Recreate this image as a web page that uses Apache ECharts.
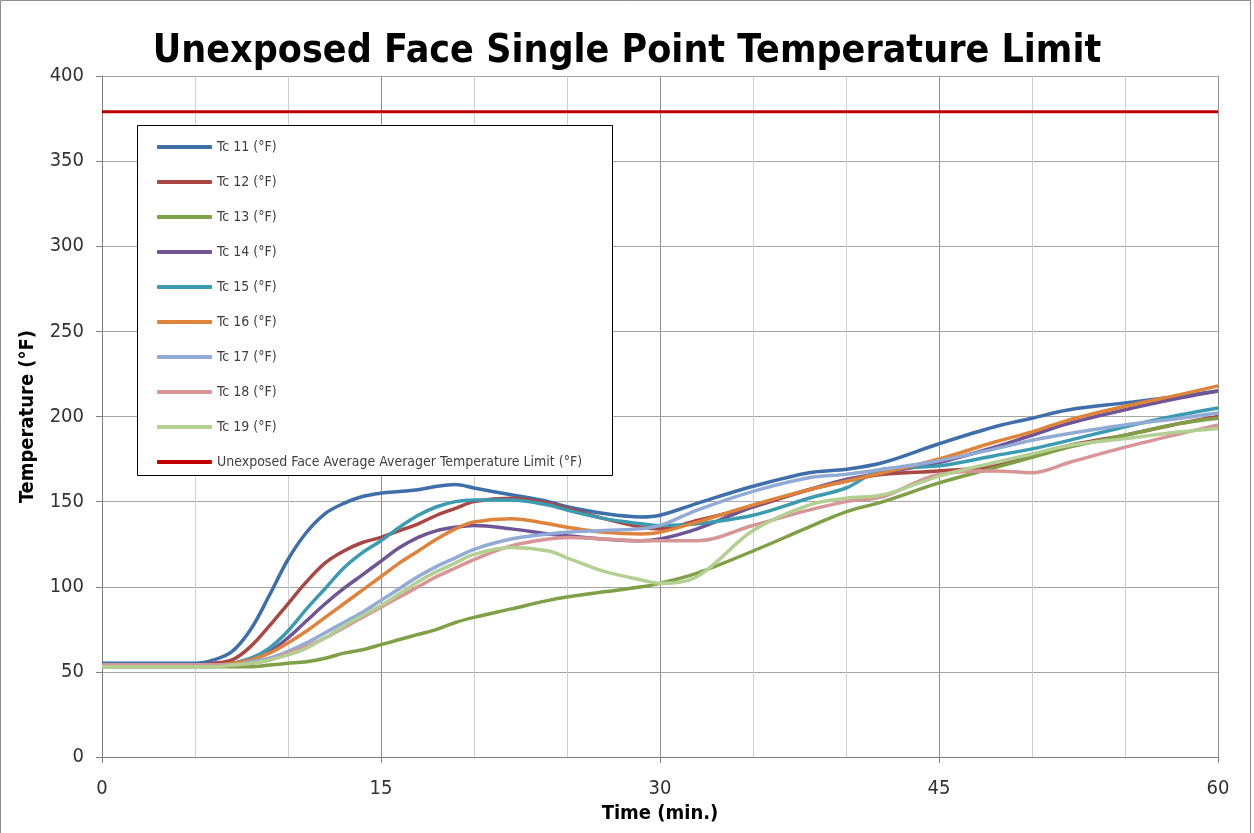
<!DOCTYPE html>
<html>
<head>
<meta charset="utf-8">
<title>Unexposed Face Single Point Temperature Limit</title>
<script src="https://cdn.jsdelivr.net/npm/echarts@6/dist/echarts.min.js"></script>
<style>
  html, body { margin: 0; padding: 0; background: #fff; }
  #chart { width: 1254px; height: 833px; }
</style>
</head>
<body>
<div id="chart"></div>
<script>
// time in minutes
var times = [0, 3, 5, 6, 7, 8, 9, 10, 11, 12, 13, 14, 15, 16, 17, 18, 19, 20, 22, 24, 25, 27, 29, 30, 32, 35, 38, 40, 42, 45, 48, 50, 52, 55, 58, 60];

var tc11 = [55, 55, 55, 57, 62, 75, 95, 116, 132, 143, 149, 153, 155, 156, 157, 159, 160, 158, 154, 150, 147, 143, 141, 142, 149, 159, 167, 169, 173, 184, 194, 199, 204, 208, 212, 215];
var tc12 = [54, 54, 54, 55, 57, 65, 77, 90, 103, 114, 121, 126, 129, 133, 137, 142, 146, 150, 152, 149, 146, 140, 135, 134, 139, 147, 157, 162, 166, 168, 171, 177, 183, 189, 196, 200];
var tc13 = [53, 53, 53, 53, 53, 53, 54, 55, 56, 58, 61, 63, 66, 69, 72, 75, 79, 82, 87, 92, 94, 97, 100, 102, 108, 121, 135, 144, 150, 161, 170, 176, 182, 189, 196, 199];
var tc14 = [54, 54, 54, 54, 55, 58, 62, 70, 80, 90, 99, 107, 115, 123, 129, 133, 135, 136, 134, 131, 130, 128, 127, 128, 134, 147, 157, 163, 167, 173, 182, 189, 196, 204, 211, 215];
var tc15 = [54, 54, 54, 54, 55, 58, 64, 74, 87, 99, 111, 120, 127, 135, 142, 147, 150, 151, 151, 148, 145, 140, 137, 136, 137, 142, 152, 158, 169, 171, 177, 181, 186, 194, 201, 205];
var tc16 = [54, 54, 54, 54, 55, 57, 61, 67, 74, 82, 90, 98, 106, 114, 121, 128, 134, 138, 140, 137, 135, 132, 131, 132, 138, 148, 157, 162, 167, 175, 185, 191, 198, 206, 213, 218];
var tc17 = [54, 54, 54, 54, 54, 56, 58, 62, 67, 73, 79, 85, 92, 99, 106, 112, 117, 122, 128, 131, 132, 133, 134, 136, 145, 156, 164, 166, 169, 174, 181, 186, 190, 195, 199, 202];
var tc18 = [54, 54, 54, 54, 54, 55, 57, 61, 65, 70, 76, 82, 88, 94, 100, 106, 111, 116, 124, 128, 129, 128, 127, 127, 127, 136, 145, 150, 153, 166, 168, 167, 173, 182, 190, 195];
var tc19 = [53, 53, 53, 53, 54, 55, 57, 60, 64, 70, 77, 83, 89, 96, 103, 109, 114, 119, 123, 121, 117, 109, 104, 102, 106, 133, 148, 152, 154, 165, 173, 178, 183, 187, 191, 193];

var limitTimes = [0, 60];
var limitValues = [379, 379];

var seriesNames = ['Tc 11 (°F)', 'Tc 12 (°F)', 'Tc 13 (°F)', 'Tc 14 (°F)', 'Tc 15 (°F)', 'Tc 16 (°F)', 'Tc 17 (°F)', 'Tc 18 (°F)', 'Tc 19 (°F)'];
var seriesValues = [tc11, tc12, tc13, tc14, tc15, tc16, tc17, tc18, tc19];
var seriesColors = ['#3f6faa', '#aa4643', '#7fa046', '#6f5496', '#3b9bb0', '#e0833a', '#92aad6', '#d89595', '#b3cf91'];
var limitName = 'Unexposed Face Average Averager Temperature Limit (°F)';

var xTicks = [0, 15, 30, 45, 60];

var FONT = '"DejaVu Sans Condensed", "Liberation Sans", sans-serif';

function pairs(xs, ys) {
    var out = [];
    for (var i = 0; i < xs.length; i++) {
        out.push([xs[i], ys[i]]);
    }
    return out;
}

function get_option() {
    var series = [];
    for (var i = 0; i < seriesNames.length; i++) {
        series.push({
            name: seriesNames[i],
            type: 'line',
            smooth: 0.35,
            showSymbol: false,
            symbol: 'none',
            z: 2,
            lineStyle: { width: 3.5, color: seriesColors[i] },
            itemStyle: { color: seriesColors[i] },
            data: pairs(times, seriesValues[i])
        });
    }
    series.push({
        name: limitName,
        type: 'line',
        showSymbol: false,
        symbol: 'none',
        z: 2,
        lineStyle: { width: 3, color: '#c00000' },
        itemStyle: { color: '#c00000' },
        data: pairs(limitTimes, limitValues)
    });

    var legendNames = seriesNames.concat([limitName]);

    return {
        backgroundColor: '#ffffff',
        animation: false,
        textStyle: { fontFamily: FONT },
        title: {
            text: 'Unexposed Face Single Point Temperature Limit',
            left: 'center',
            top: 27,
            textStyle: {
                fontFamily: FONT,
                fontWeight: 'bold',
                fontSize: 39,
                color: '#000'
            }
        },
        graphic: [
            {
                type: 'rect',
                z: 3,
                shape: { x: 137.5, y: 125.5, width: 475, height: 350 },
                style: { fill: '#fff', stroke: '#000', lineWidth: 1 }
            },
            {
                type: 'rect',
                z: 0,
                silent: true,
                shape: { x: 0.5, y: 0.5, width: 1250, height: 840 },
                style: { fill: 'none', stroke: '#8c8c8c', lineWidth: 1 }
            }
        ],
        legend: {
            orient: 'vertical',
            left: 152,
            top: 134,
            z: 5,
            icon: 'roundRect',
            itemWidth: 55,
            itemHeight: 4,
            itemGap: 19,
            data: legendNames,
            textStyle: {
                fontFamily: FONT,
                fontSize: 14,
                lineHeight: 16,
                color: '#404040'
            }
        },
        grid: {
            left: 102,
            right: 36,
            top: 76,
            bottom: 76,
            containLabel: false
        },
        xAxis: {
            type: 'value',
            min: 0,
            max: 60,
            interval: 15,
            name: 'Time (min.)',
            nameLocation: 'middle',
            nameGap: 46,
            nameTextStyle: {
                fontFamily: FONT,
                fontWeight: 'bold',
                fontSize: 20,
                color: '#000'
            },
            axisLine: { show: true, lineStyle: { color: '#808080', width: 1 } },
            axisTick: { show: true, length: 6, lineStyle: { color: '#808080' } },
            axisLabel: {
                margin: 22,
                fontFamily: FONT,
                fontSize: 20,
                color: '#333',
                formatter: function (v) {
                    return xTicks.indexOf(v) >= 0 ? String(v) : '';
                }
            },
            splitLine: { show: true, lineStyle: { color: '#8f8f8f', width: 1 } },
            minorTick: { show: false, splitNumber: 3 },
            minorSplitLine: { show: true, lineStyle: { color: '#cfcfcf', width: 1 } }
        },
        yAxis: {
            type: 'value',
            min: 0,
            max: 400,
            interval: 50,
            name: 'Temperature (°F)',
            nameLocation: 'middle',
            nameGap: 64,
            nameTextStyle: {
                fontFamily: FONT,
                fontWeight: 'bold',
                fontSize: 20,
                color: '#000'
            },
            axisLine: { show: true, lineStyle: { color: '#808080', width: 1 } },
            axisTick: { show: true, length: 6, lineStyle: { color: '#808080' } },
            axisLabel: {
                margin: 18,
                fontFamily: FONT,
                fontSize: 20,
                color: '#333'
            },
            splitLine: { show: true, lineStyle: { color: '#a6a6a6', width: 1 } }
        },
        series: series
    };
}

var myChart = echarts.init(document.getElementById('chart'));
myChart.setOption(get_option());
</script>
</body>
</html>
